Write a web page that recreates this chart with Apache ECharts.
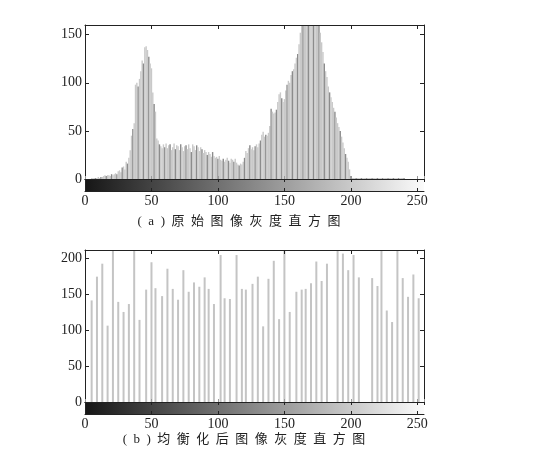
<!DOCTYPE html>
<html><head><meta charset="utf-8">
<script src="https://cdn.jsdelivr.net/npm/echarts@6/dist/echarts.min.js"></script>
<style>html,body{margin:0;padding:0;background:#fff}#c{width:534px;height:461px}</style>
</head><body><div id="c"></div>
<script>
// (a) original histogram: counts per grey level 0..255
const countsA = [
  0,0,0,0,0,
  1,1,1,1,1,2,1,2,2,
  3,4,3,4,4,3,5,4,5,6,5,
  8,9,7,12,13,10,18,16,22,
  30,45,52,58,98,100,96,104,112,123,120,137,138,134,127,120,115,90,78,70,
  42,40,36,34,32,36,33,37,32,35,36,30,33,37,31,35,34,30,36,33,29,34,35,31,36,32,
  28,36,34,30,35,33,29,33,31,27,30,28,25,28,26,23,28,24,22,23,
  21,24,20,19,21,18,20,22,19,17,21,20,18,21,17,15,14,16,15,18,
  22,29,27,32,35,31,33,30,34,36,33,37,40,46,49,44,46,45,48,55,
  73,70,68,69,72,80,88,90,84,80,83,92,98,102,100,108,112,114,120,126,
  130,140,152,162,166,170,174,177,180,178,182,180,177,175,172,168,165,152,142,132,
  120,112,106,96,90,85,80,74,70,64,58,54,50,44,38,32,26,22,18,10,3,
  1,1,1,1,1,1,1,1,1,1,1,1,1,1,1,1,1,1,1,1,
  1,1,1,1,1,1,1,1,1,1,1,1,1,1,1,1,1,1,1,1,
  0,0,0,0,0,0,0,0,0,0,0,0,0,0,0
];
// (b) equalized histogram: occupied grey levels and their counts
const levelsB = [5,9,13,17,21,25,29,33,37,41,46,50,53,58,62,66,70,74,78,82,86,90,93,97,102,105,109,114,118,121,126,130,134,138,142,146,150,154,159,163,166,170,174,178,182,190,194,198,202,206,216,220,223,227,231,235,239,243,247,251];
const countsB = [141,174,192,106,230,139,125,136,230,114,156,194,158,147,185,157,142,183,153,166,160,173,157,136,204,144,143,204,157,156,164,174,105,171,196,115,230,125,153,156,157,165,195,168,192,230,206,183,204,173,172,161,230,127,111,230,172,146,177,144];
const xRange = [0, 255];
const xTickStep = 50;
const yRangeA = [0, 160];
const yRangeB = [0, 211];
const yTickStep = 50;
const titleA = '(  a  )  原  始  图  像  灰  度  直  方  图';
const titleB = '(  b  )  均  衡  化  后  图  像  灰  度  直  方  图';

const FONT = '"Liberation Serif","Noto Sans CJK SC",serif';
const INK = '#222';
const grad = {type:'linear',x:0,y:0,x2:1,y2:0,colorStops:[{offset:0,color:'#161616'},{offset:1,color:'#fbfbfb'}]};

function xAx(grid, pos, labels, tickColor, tickLen) {
  return {
    gridIndex: grid, type: 'value', position: pos, min: xRange[0], max: xRange[1], interval: xTickStep, z: 5,
    axisLine: {show: true, onZero: false, lineStyle: {color: INK, width: 1}},
    axisTick: {show: true, inside: true, length: tickLen, lineStyle: {color: tickColor}},
    axisLabel: {show: labels, showMaxLabel: false, color: INK, fontFamily: FONT, fontSize: 14, margin: 3},
    splitLine: {show: false}
  };
}
function yAx(grid, pos, range, labels, show) {
  return {
    gridIndex: grid, type: 'value', position: pos, min: range[0], max: range[1], interval: yTickStep, show: show, z: 5,
    axisLine: {show: true, onZero: false, lineStyle: {color: INK, width: 1}},
    axisTick: {show: true, inside: true, length: 4, lineStyle: {color: INK}},
    axisLabel: {show: labels, showMaxLabel: false, color: INK, fontFamily: FONT, fontSize: 14, margin: 3},
    splitLine: {show: false}
  };
}

const chart = echarts.init(document.getElementById('c'), null, {renderer: 'canvas'});
chart.setOption({
  animation: false,
  backgroundColor: '#fff',
  grid: [
    {left: 85, top: 25, width: 339, height: 154},
    {left: 85, top: 179, width: 339, height: 12, show: true, backgroundColor: grad, borderWidth: 0},
    {left: 85, top: 250, width: 339, height: 152},
    {left: 85, top: 402, width: 339, height: 12, show: true, backgroundColor: grad, borderWidth: 0}
  ],
  xAxis: [
    xAx(0, 'bottom', false, '#999', 3),
    xAx(0, 'top', false, INK, 4),
    xAx(1, 'bottom', true, INK, 3),
    xAx(1, 'top', false, INK, 3),
    xAx(2, 'bottom', false, '#999', 3),
    xAx(2, 'top', false, INK, 4),
    xAx(3, 'bottom', true, INK, 3),
    xAx(3, 'top', false, INK, 3)
  ],
  yAxis: [
    yAx(0, 'left', yRangeA, true, true),
    yAx(0, 'right', yRangeA, false, true),
    {gridIndex: 1, type: 'value', min: 0, max: 1, show: true, axisLine: {show: true, lineStyle: {color: INK}}, axisTick: {show: false}, axisLabel: {show: false}, splitLine: {show: false}, z: 5},
    yAx(2, 'left', yRangeB, true, true),
    yAx(2, 'right', yRangeB, false, true),
    {gridIndex: 3, type: 'value', min: 0, max: 1, show: true, axisLine: {show: true, lineStyle: {color: INK}}, axisTick: {show: false}, axisLabel: {show: false}, splitLine: {show: false}, z: 5}
  ],
  series: [
    {
      type: 'bar', xAxisIndex: 0, yAxisIndex: 0, barWidth: 1.4, clip: true,
      data: countsA.map((v, i) => [i, v]),
      itemStyle: {color: p => (p.dataIndex % 4 === 0 ? '#8c8c8c' : '#c9c9c9')}
    },
    {
      type: 'bar', xAxisIndex: 4, yAxisIndex: 3, barWidth: 2, clip: true,
      data: levelsB.map((x, i) => [x, countsB[i]]),
      itemStyle: {color: '#c4c4c4'}
    }
  ],
  graphic: [
    {type: 'text', x: 239, y: 222, style: {text: titleA, fontFamily: FONT, fontSize: 13, fill: INK, align: 'center', verticalAlign: 'middle'}},
    {type: 'text', x: 244, y: 440, style: {text: titleB, fontFamily: FONT, fontSize: 13, fill: INK, align: 'center', verticalAlign: 'middle'}}
  ]
});
</script></body></html>
